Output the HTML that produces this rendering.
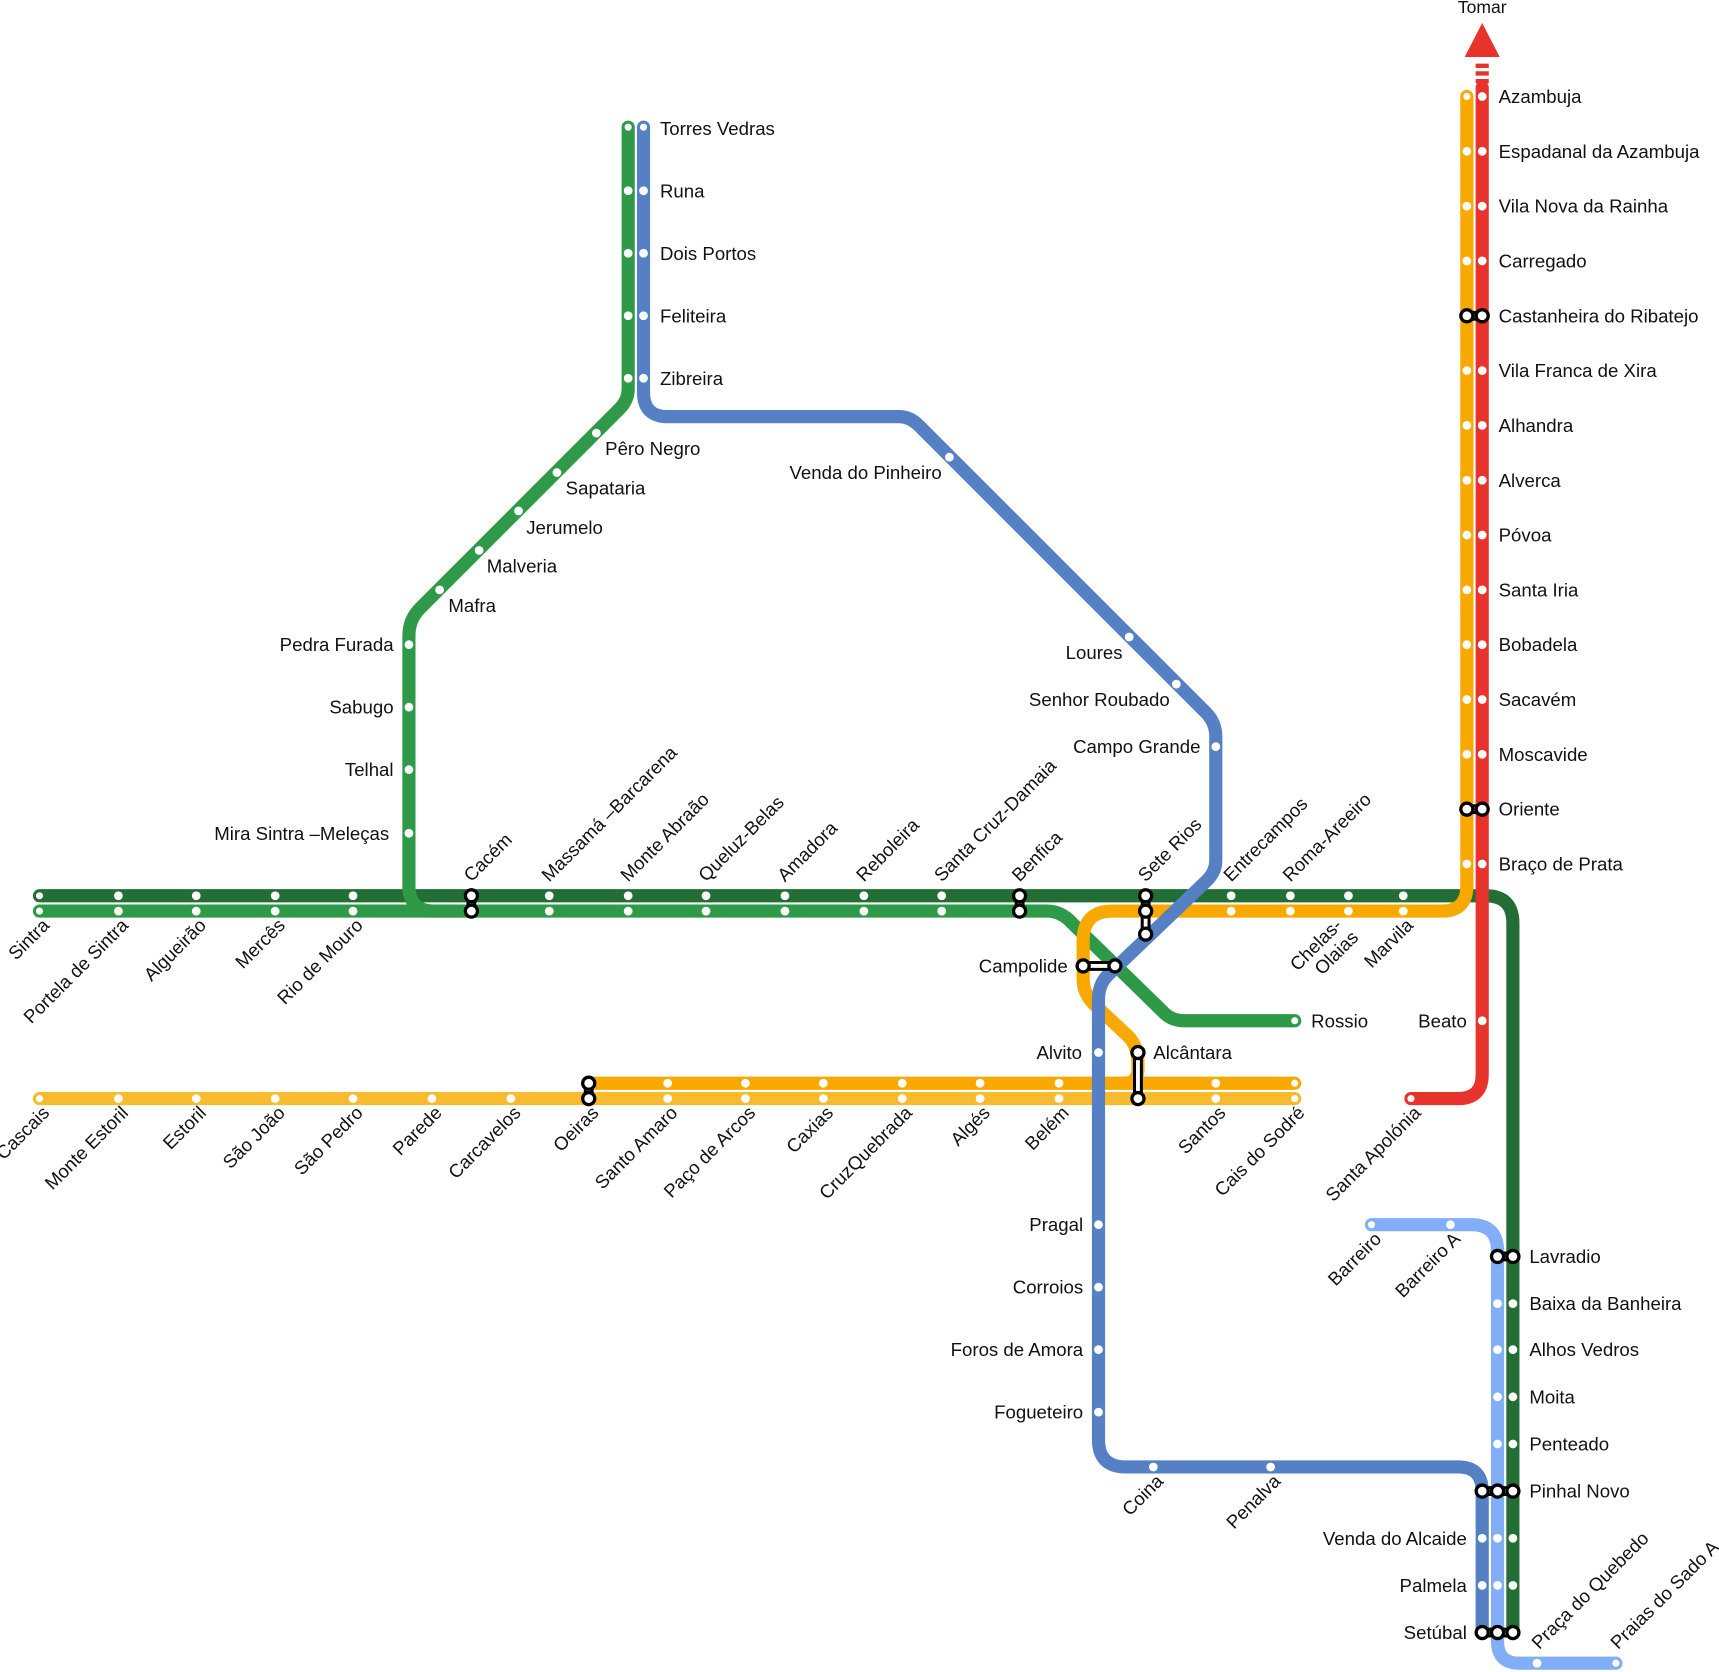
<!DOCTYPE html>
<html><head><meta charset="utf-8"><style>html,body{margin:0;padding:0;background:#fff}svg{display:block}text{font-family:"Liberation Sans","DejaVu Sans",sans-serif;font-size:17px;fill:#111}</style></head><body>
<svg width="1719" height="1672" viewBox="0 0 1568 1525" preserveAspectRatio="none" xmlns="http://www.w3.org/2000/svg">
<g fill="none" stroke-width="12" stroke-linejoin="round" stroke-linecap="round">
<path d="M36 817 H1355 Q1380 817 1380 842 V1489" stroke="#236e34"/>
<path d="M36 831 H955 Q968 831 978 842 L1060 922 Q1068 931 1080 931 H1181" stroke="#2e9a48"/>
<path d="M573 116 V355 Q573 365 565 373 L383 555 Q373 565 373 580 V808 Q373 831 396 831 H430" stroke="#2e9a48"/>
<path d="M1338 88 V808 Q1338 831 1315 831 H1015 Q988 831 988 858 V893 Q988 906 998 916 L1030 946 Q1038 955 1038 970 V975 Q1038 988 1025 988 H537" stroke="#f9a800"/>
<path d="M1025 988 H1181" stroke="#f9a800"/>
<path d="M36 1002 H1181" stroke="#f8bb2f"/>
<path d="M587 116 V358 Q587 380 609 380 H820 Q830 380 838 388 L1100 650 Q1109 659 1109 672 V785 Q1109 795 1101 803 L1010 890 Q1002 898 1002 912 V1313 Q1002 1338 1027 1338 H1330 Q1352 1338 1352 1360 V1489" stroke="#5580c4"/>
<path d="M1352 80 V980 Q1352 1002 1330 1002 H1287" stroke="#e8332d"/>
<path d="M1352 58 V77" stroke="#e8332d" stroke-dasharray="4 3" stroke-linecap="butt"/>
<path d="M1251 1117 H1342 Q1366 1117 1366 1141 V1497 Q1366 1517 1386 1517 H1474" stroke="#82aef7"/>
</g>
<polygon points="1352,21 1336,52 1368,52" fill="#e8332d"/>
<text x="1352" y="12" text-anchor="middle" style="font-size:16px">Tomar</text>
<g fill="#fff">
<circle cx="108" cy="817" r="4"/><circle cx="179" cy="817" r="4"/><circle cx="251" cy="817" r="4"/><circle cx="322" cy="817" r="4"/><circle cx="501" cy="817" r="4"/><circle cx="573" cy="817" r="4"/><circle cx="644" cy="817" r="4"/><circle cx="716" cy="817" r="4"/><circle cx="788" cy="817" r="4"/><circle cx="859" cy="817" r="4"/><circle cx="1123" cy="817" r="4"/><circle cx="1177" cy="817" r="4"/><circle cx="1230" cy="817" r="4"/><circle cx="1280" cy="817" r="4"/>
<circle cx="108" cy="831" r="4"/><circle cx="179" cy="831" r="4"/><circle cx="251" cy="831" r="4"/><circle cx="322" cy="831" r="4"/><circle cx="501" cy="831" r="4"/><circle cx="573" cy="831" r="4"/><circle cx="644" cy="831" r="4"/><circle cx="716" cy="831" r="4"/><circle cx="788" cy="831" r="4"/><circle cx="859" cy="831" r="4"/><circle cx="1123" cy="831" r="4"/><circle cx="1177" cy="831" r="4"/><circle cx="1230" cy="831" r="4"/><circle cx="1280" cy="831" r="4"/>
<circle cx="609" cy="988" r="4"/><circle cx="680" cy="988" r="4"/><circle cx="751" cy="988" r="4"/><circle cx="823" cy="988" r="4"/><circle cx="894" cy="988" r="4"/><circle cx="966" cy="988" r="4"/><circle cx="1109" cy="988" r="4"/>
<circle cx="108" cy="1002" r="4"/><circle cx="179" cy="1002" r="4"/><circle cx="251" cy="1002" r="4"/><circle cx="322" cy="1002" r="4"/><circle cx="394" cy="1002" r="4"/><circle cx="466" cy="1002" r="4"/><circle cx="609" cy="1002" r="4"/><circle cx="680" cy="1002" r="4"/><circle cx="751" cy="1002" r="4"/><circle cx="823" cy="1002" r="4"/><circle cx="894" cy="1002" r="4"/><circle cx="966" cy="1002" r="4"/><circle cx="1109" cy="1002" r="4"/>
<circle cx="587" cy="174" r="4"/><circle cx="587" cy="231" r="4"/><circle cx="587" cy="288" r="4"/><circle cx="587" cy="345" r="4"/>
<circle cx="573" cy="174" r="4"/><circle cx="573" cy="231" r="4"/><circle cx="573" cy="288" r="4"/><circle cx="573" cy="345" r="4"/>
<circle cx="866" cy="417" r="4"/><circle cx="1030" cy="581" r="4"/><circle cx="1073" cy="624" r="4"/><circle cx="1109" cy="681" r="4"/><circle cx="1002" cy="960" r="4"/><circle cx="1002" cy="1117" r="4"/><circle cx="1002" cy="1174" r="4"/><circle cx="1002" cy="1231" r="4"/><circle cx="1002" cy="1288" r="4"/><circle cx="1052" cy="1338" r="4"/><circle cx="1159" cy="1338" r="4"/><circle cx="1352" cy="1403" r="4"/><circle cx="1352" cy="1446" r="4"/>
<circle cx="544" cy="395" r="4"/><circle cx="508" cy="431" r="4"/><circle cx="473" cy="466" r="4"/><circle cx="437" cy="502" r="4"/><circle cx="401" cy="538" r="4"/><circle cx="373" cy="588" r="4"/><circle cx="373" cy="645" r="4"/><circle cx="373" cy="702" r="4"/><circle cx="373" cy="760" r="4"/>
<circle cx="1338" cy="138" r="4"/><circle cx="1338" cy="188" r="4"/><circle cx="1338" cy="238" r="4"/><circle cx="1338" cy="338" r="4"/><circle cx="1338" cy="388" r="4"/><circle cx="1338" cy="438" r="4"/><circle cx="1338" cy="488" r="4"/><circle cx="1338" cy="538" r="4"/><circle cx="1338" cy="588" r="4"/><circle cx="1338" cy="638" r="4"/><circle cx="1338" cy="688" r="4"/><circle cx="1338" cy="788" r="4"/>
<circle cx="1352" cy="88" r="4"/><circle cx="1352" cy="138" r="4"/><circle cx="1352" cy="188" r="4"/><circle cx="1352" cy="238" r="4"/><circle cx="1352" cy="338" r="4"/><circle cx="1352" cy="388" r="4"/><circle cx="1352" cy="438" r="4"/><circle cx="1352" cy="488" r="4"/><circle cx="1352" cy="538" r="4"/><circle cx="1352" cy="588" r="4"/><circle cx="1352" cy="638" r="4"/><circle cx="1352" cy="688" r="4"/><circle cx="1352" cy="788" r="4"/><circle cx="1352" cy="931" r="4"/>
<circle cx="1380" cy="1189" r="4"/><circle cx="1380" cy="1231" r="4"/><circle cx="1380" cy="1274" r="4"/><circle cx="1380" cy="1317" r="4"/><circle cx="1380" cy="1403" r="4"/><circle cx="1380" cy="1446" r="4"/>
<circle cx="1366" cy="1189" r="4"/><circle cx="1366" cy="1231" r="4"/><circle cx="1366" cy="1274" r="4"/><circle cx="1366" cy="1317" r="4"/><circle cx="1366" cy="1403" r="4"/><circle cx="1366" cy="1446" r="4"/><circle cx="1323" cy="1117" r="4"/><circle cx="1402" cy="1517" r="4"/>
</g>
<g fill="#fff" stroke-width="2.5">
<circle cx="36" cy="817" r="4.5" stroke="#236e34"/><circle cx="36" cy="831" r="4.5" stroke="#2e9a48"/><circle cx="36" cy="1002" r="4.5" stroke="#f8bb2f"/><circle cx="1181" cy="931" r="4.5" stroke="#2e9a48"/><circle cx="1181" cy="988" r="4.5" stroke="#f9a800"/><circle cx="1181" cy="1002" r="4.5" stroke="#f8bb2f"/><circle cx="573" cy="116" r="4.5" stroke="#2e9a48"/><circle cx="587" cy="116" r="4.5" stroke="#5580c4"/><circle cx="1338" cy="88" r="4.5" stroke="#f9a800"/><circle cx="1287" cy="1002" r="4.5" stroke="#e8332d"/><circle cx="1251" cy="1117" r="4.5" stroke="#82aef7"/><circle cx="1474" cy="1517" r="4.5" stroke="#82aef7"/>
</g>
<g stroke="#000" stroke-width="9" stroke-linecap="round">
<path d="M430 817V831M930 817V831M1045 817V852M988 881H1017M537 988V1002M1038 960V1002M1338 288H1352M1338 738H1352M1366 1146H1380M1352 1360H1380M1352 1489H1380"/>
</g>
<g stroke="#fff" stroke-width="3.5">
<path d="M430 817V831M930 817V831M1045 817V852M988 881H1017M537 988V1002M1038 960V1002M1338 288H1352M1338 738H1352M1366 1146H1380M1352 1360H1380M1352 1489H1380"/>
</g>
<g fill="#fff" stroke="#000" stroke-width="3">
<circle cx="430" cy="817" r="5.5"/><circle cx="430" cy="831" r="5.5"/><circle cx="930" cy="817" r="5.5"/><circle cx="930" cy="831" r="5.5"/><circle cx="1045" cy="817" r="5.5"/><circle cx="1045" cy="831" r="5.5"/><circle cx="1045" cy="852" r="5.5"/><circle cx="988" cy="881" r="5.5"/><circle cx="1017" cy="881" r="5.5"/><circle cx="537" cy="988" r="5.5"/><circle cx="537" cy="1002" r="5.5"/><circle cx="1038" cy="960" r="5.5"/><circle cx="1038" cy="1002" r="5.5"/><circle cx="1338" cy="288" r="5.5"/><circle cx="1352" cy="288" r="5.5"/><circle cx="1338" cy="738" r="5.5"/><circle cx="1352" cy="738" r="5.5"/><circle cx="1366" cy="1146" r="5.5"/><circle cx="1380" cy="1146" r="5.5"/><circle cx="1352" cy="1360" r="5.5"/><circle cx="1366" cy="1360" r="5.5"/><circle cx="1380" cy="1360" r="5.5"/><circle cx="1352" cy="1489" r="5.5"/><circle cx="1366" cy="1489" r="5.5"/><circle cx="1380" cy="1489" r="5.5"/>
</g>
<g>
<text x="602" y="123">Torres Vedras</text><text x="602" y="180">Runa</text><text x="602" y="237">Dois Portos</text><text x="602" y="294">Feliteira</text><text x="602" y="351">Zibreira</text>
<text x="552" y="415">Pêro Negro</text><text x="516" y="451">Sapataria</text><text x="480" y="487">Jerumelo</text><text x="444" y="522">Malveria</text><text x="409" y="558">Mafra</text>
<text x="359" y="594" text-anchor="end">Pedra Furada</text><text x="359" y="651" text-anchor="end">Sabugo</text><text x="359" y="708" text-anchor="end">Telhal</text><text x="355" y="766" text-anchor="end">Mira Sintra –Meleças</text>
<text x="859" y="437" text-anchor="end">Venda do Pinheiro</text><text x="1024" y="601" text-anchor="end">Loures</text><text x="1067" y="644" text-anchor="end">Senhor Roubado</text><text x="1095" y="687" text-anchor="end">Campo Grande</text>
<text x="974" y="887" text-anchor="end">Campolide</text><text x="1196" y="937">Rossio</text><text x="987" y="966" text-anchor="end">Alvito</text><text x="1052" y="966">Alcântara</text><text x="1338" y="937" text-anchor="end">Beato</text>
<text x="988" y="1123" text-anchor="end">Pragal</text><text x="988" y="1180" text-anchor="end">Corroios</text><text x="988" y="1237" text-anchor="end">Foros de Amora</text><text x="988" y="1294" text-anchor="end">Fogueteiro</text>
<text x="1367" y="94">Azambuja</text><text x="1367" y="144">Espadanal da Azambuja</text><text x="1367" y="194">Vila Nova da Rainha</text><text x="1367" y="244">Carregado</text><text x="1367" y="294">Castanheira do Ribatejo</text><text x="1367" y="344">Vila Franca de Xira</text><text x="1367" y="394">Alhandra</text><text x="1367" y="444">Alverca</text><text x="1367" y="494">Póvoa</text><text x="1367" y="544">Santa Iria</text><text x="1367" y="594">Bobadela</text><text x="1367" y="644">Sacavém</text><text x="1367" y="694">Moscavide</text><text x="1367" y="744">Oriente</text><text x="1367" y="794">Braço de Prata</text>
<text x="1395" y="1152">Lavradio</text><text x="1395" y="1195">Baixa da Banheira</text><text x="1395" y="1237">Alhos Vedros</text><text x="1395" y="1280">Moita</text><text x="1395" y="1323">Penteado</text><text x="1395" y="1366">Pinhal Novo</text>
<text x="1338" y="1409" text-anchor="end">Venda do Alcaide</text><text x="1338" y="1452" text-anchor="end">Palmela</text><text x="1338" y="1495" text-anchor="end">Setúbal</text>
</g>
<g text-anchor="end">
<text transform="translate(46,845) rotate(-45)">Sintra</text>
<text transform="translate(118,845) rotate(-45)">Portela de Sintra</text>
<text transform="translate(189,845) rotate(-45)">Algueirão</text>
<text transform="translate(261,845) rotate(-45)">Mercês</text>
<text transform="translate(332,845) rotate(-45)">Rio de Mouro</text>
<text transform="translate(1225,845) rotate(-45)">Chelas-</text>
<text transform="translate(1240,856) rotate(-45)">Olaias</text>
<text transform="translate(1290,845) rotate(-45)">Marvila</text>
<text transform="translate(46,1016) rotate(-45)">Cascais</text>
<text transform="translate(118,1016) rotate(-45)">Monte Estoril</text>
<text transform="translate(189,1016) rotate(-45)">Estoril</text>
<text transform="translate(261,1016) rotate(-45)">São João</text>
<text transform="translate(332,1016) rotate(-45)">São Pedro</text>
<text transform="translate(404,1016) rotate(-45)">Parede</text>
<text transform="translate(476,1016) rotate(-45)">Carcavelos</text>
<text transform="translate(547,1016) rotate(-45)">Oeiras</text>
<text transform="translate(619,1016) rotate(-45)">Santo Amaro</text>
<text transform="translate(690,1016) rotate(-45)">Paço de Arcos</text>
<text transform="translate(761,1016) rotate(-45)">Caxias</text>
<text transform="translate(833,1016) rotate(-45)">CruzQuebrada</text>
<text transform="translate(904,1016) rotate(-45)">Algés</text>
<text transform="translate(976,1016) rotate(-45)">Belém</text>
<text transform="translate(1119,1016) rotate(-45)">Santos</text>
<text transform="translate(1191,1016) rotate(-45)">Cais do Sodré</text>
<text transform="translate(1297,1016) rotate(-45)">Santa Apolónia</text>
<text transform="translate(1261,1131) rotate(-45)">Barreiro</text>
<text transform="translate(1333,1131) rotate(-45)">Barreiro A</text>
<text transform="translate(1062,1352) rotate(-45)">Coina</text>
<text transform="translate(1169,1352) rotate(-45)">Penalva</text>
</g>
<g>
<text transform="translate(430,805) rotate(-45)">Cacém</text>
<text transform="translate(501,805) rotate(-45)">Massamá –Barcarena</text>
<text transform="translate(573,805) rotate(-45)">Monte Abraão</text>
<text transform="translate(644,805) rotate(-45)">Queluz-Belas</text>
<text transform="translate(716,805) rotate(-45)">Amadora</text>
<text transform="translate(788,805) rotate(-45)">Reboleira</text>
<text transform="translate(859,805) rotate(-45)">Santa Cruz-Damaia</text>
<text transform="translate(930,805) rotate(-45)">Benfica</text>
<text transform="translate(1045,805) rotate(-45)">Sete Rios</text>
<text transform="translate(1123,805) rotate(-45)">Entrecampos</text>
<text transform="translate(1177,805) rotate(-45)">Roma-Areeiro</text>
<text transform="translate(1404,1505) rotate(-45)">Praça do Quebedo</text>
<text transform="translate(1476,1505) rotate(-45)">Praias do Sado A</text>
</g>
</svg>
</body></html>
